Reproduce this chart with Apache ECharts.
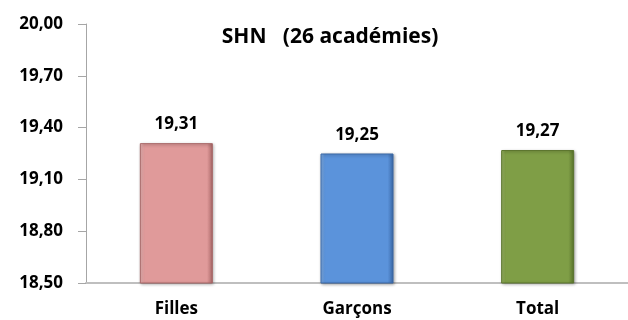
<!DOCTYPE html>
<html>
<head>
<meta charset="utf-8">
<script src="https://cdn.jsdelivr.net/npm/echarts@6/dist/echarts.min.js"></script>
<style>
  html, body { margin: 0; padding: 0; background: #fff; }
  #chart { width: 628px; height: 320px; }
</style>
</head>
<body>
<div id="chart"></div>
<script>
// données
const categories = ["Filles", "Garçons", "Total"];
const values = [19.31, 19.25, 19.27];
const barColors = ["#E09A9A", "#5B93DB", "#7F9E46"];
const lightColors = ["#F2BDBD", "#86B4EC", "#A0BC68"];
const edgeColors = ["#A86767", "#3A68A6", "#5A742C"];

const myChart = echarts.init(document.getElementById("chart"));
const fmt = v => v.toFixed(2).replace(".", ",");
const FONT = "Open Sans";

// dégradé léger pour l'effet biseau
const bevel = i => new echarts.graphic.LinearGradient(0, 0, 1, 0, [
  { offset: 0, color: lightColors[i] },
  { offset: 0.06, color: barColors[i] },
  { offset: 0.92, color: barColors[i] },
  { offset: 1, color: edgeColors[i] }
]);

let option = {
  backgroundColor: "#fff",
  animation: false,
  title: {
    text: "SHN   (26 académies)",
    left: 325,
    textAlign: "center",
    top: 22,
    textStyle: { fontFamily: FONT, fontSize: 21, fontWeight: "bold", color: "#000" }
  },
  grid: { left: 86, right: -4, top: 24, bottom: 37 },
  xAxis: {
    type: "category",
    data: categories,
    axisLine: { show: true, lineStyle: { color: "#BFBFBF", width: 2 } },
    axisTick: { show: false },
    axisLabel: { color: "#000", fontFamily: FONT, fontSize: 17, fontWeight: "bold", margin: 18 }
  },
  yAxis: {
    type: "value",
    min: 18.5,
    max: 20.0,
    interval: 0.3,
    axisLine: { show: true, lineStyle: { color: "#A6A6A6" } },
    axisTick: { show: true, length: 8, lineStyle: { color: "#A6A6A6" } },
    splitLine: { show: false },
    axisLabel: {
      color: "#000", fontFamily: FONT, fontSize: 17, fontWeight: "bold", margin: 23,
      formatter: v => fmt(v)
    }
  },
  series: [{
    type: "bar",
    barWidth: 73,
    data: values.map((v, i) => ({
      value: v,
      itemStyle: {
        color: bevel(i),
        borderColor: edgeColors[i],
        borderWidth: 1,
        shadowColor: "rgba(0,0,0,0.35)",
        shadowBlur: 3,
        shadowOffsetX: 1,
        shadowOffsetY: 1
      }
    })),
    label: {
      show: true,
      position: "top",
      distance: 10,
      color: "#000",
      fontFamily: FONT,
      fontSize: 17,
      fontWeight: "bold",
      formatter: p => fmt(p.value)
    }
  }]
};
myChart.setOption(option);
</script>
</body>
</html>
